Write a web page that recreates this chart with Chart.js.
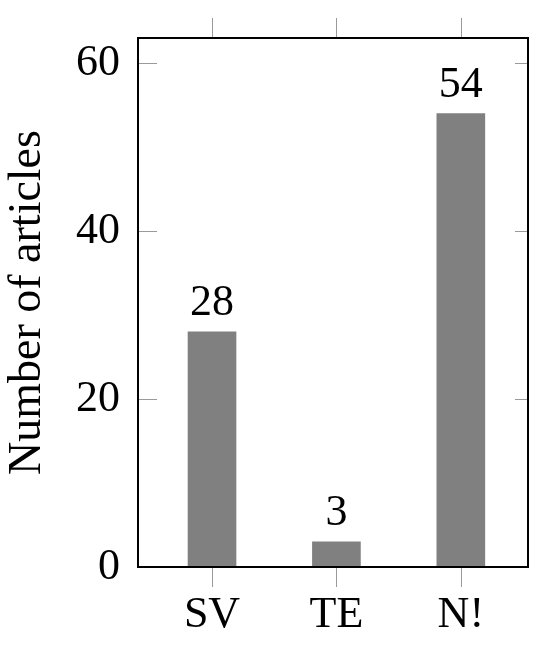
<!DOCTYPE html>
<html>
<head>
<meta charset="utf-8">
<script src="https://cdn.jsdelivr.net/npm/chart.js@4/dist/chart.umd.min.js"></script>
<style>
  html, body { margin: 0; padding: 0; background: #fff; }
  #wrap { width: 550px; height: 655px; }
</style>
</head>
<body>
<div id="wrap"><canvas id="myChart" width="550" height="655"></canvas></div>
<script>
// Data
const categories = ['SV', 'TE', 'N!'];
const articleCounts = [28, 3, 54];
const yTicks = [0, 20, 40, 60];

const FONT = "'Liberation Serif', 'Times New Roman', serif";

// Ticks on all four sides plus the frame and the value labels
const framePlugin = {
    id: 'frame',
    afterDraw(chart) {
        const ctx = chart.ctx;
        const area = chart.chartArea;
        const x = chart.scales.x;
        const y = chart.scales.y;

        ctx.save();
        ctx.strokeStyle = '#9a9a9a';
        ctx.lineWidth = 1;
        ctx.beginPath();
        categories.forEach((c, i) => {
            const px = Math.round(x.getPixelForValue(i)) + 0.5;
            ctx.moveTo(px, area.bottom);
            ctx.lineTo(px, area.bottom + 20);
            ctx.moveTo(px, area.top);
            ctx.lineTo(px, area.top - 20);
        });
        yTicks.forEach(v => {
            const py = Math.round(y.getPixelForValue(v)) + 0.5;
            ctx.moveTo(area.left, py);
            ctx.lineTo(area.left + 19, py);
            ctx.moveTo(area.right, py);
            ctx.lineTo(area.right - 13, py);
        });
        ctx.stroke();

        ctx.strokeStyle = '#000';
        ctx.lineWidth = 2;
        ctx.strokeRect(area.left, area.top, area.right - area.left, area.bottom - area.top);

        // value labels above the bars
        ctx.fillStyle = '#000';
        ctx.font = '44px ' + FONT;
        ctx.textAlign = 'center';
        ctx.textBaseline = 'alphabetic';
        const meta = chart.getDatasetMeta(0);
        meta.data.forEach((bar, i) => {
            ctx.fillText(String(articleCounts[i]), bar.x, bar.y - 17);
        });
        ctx.restore();
    }
};

let ctx = document.getElementById('myChart').getContext('2d');
let myChart = new Chart(ctx, {
    type: 'bar',
    data: {
        datasets: [{
            data: articleCounts.map((v, i) => ({ x: i, y: v })),
            backgroundColor: '#808080',
            borderWidth: 0,
            barThickness: 48
        }]
    },
    options: {
        responsive: false,
        animation: false,
        layout: {
            padding: { top: 38, right: 22, left: 0, bottom: 0 }
        },
        plugins: {
            legend: { display: false },
            tooltip: { enabled: false }
        },
        scales: {
            x: {
                type: 'linear',
                offset: false,
                min: -0.595,
                max: 2.54,
                afterBuildTicks: (scale) => {
                    scale.ticks = categories.map((c, i) => ({ value: i }));
                },
                afterFit: (scale) => {
                    scale.height = 88;
                    scale.paddingLeft = 0;
                    scale.paddingRight = 0;
                },
                grid: { display: false, drawTicks: false },
                border: { display: false },
                ticks: {
                    padding: 22,
                    color: '#000',
                    font: { family: FONT, size: 44 },
                    callback: (v) => categories[v]
                }
            },
            y: {
                min: 0,
                max: 63,
                afterBuildTicks: (scale) => {
                    scale.ticks = yTicks.map(v => ({ value: v }));
                },
                afterFit: (scale) => {
                    scale.width = 138;
                    scale.paddingTop = 0;
                    scale.paddingBottom = 0;
                },
                grid: { display: false, drawTicks: false },
                border: { display: false },
                title: {
                    display: true,
                    text: 'Number of articles',
                    color: '#000',
                    font: { family: FONT, size: 46 },
                    padding: { top: 0, bottom: 0 }
                },
                ticks: {
                    padding: 18,
                    color: '#000',
                    font: { family: FONT, size: 44 }
                }
            }
        }
    },
    plugins: [framePlugin]
});
</script>
</body>
</html>
